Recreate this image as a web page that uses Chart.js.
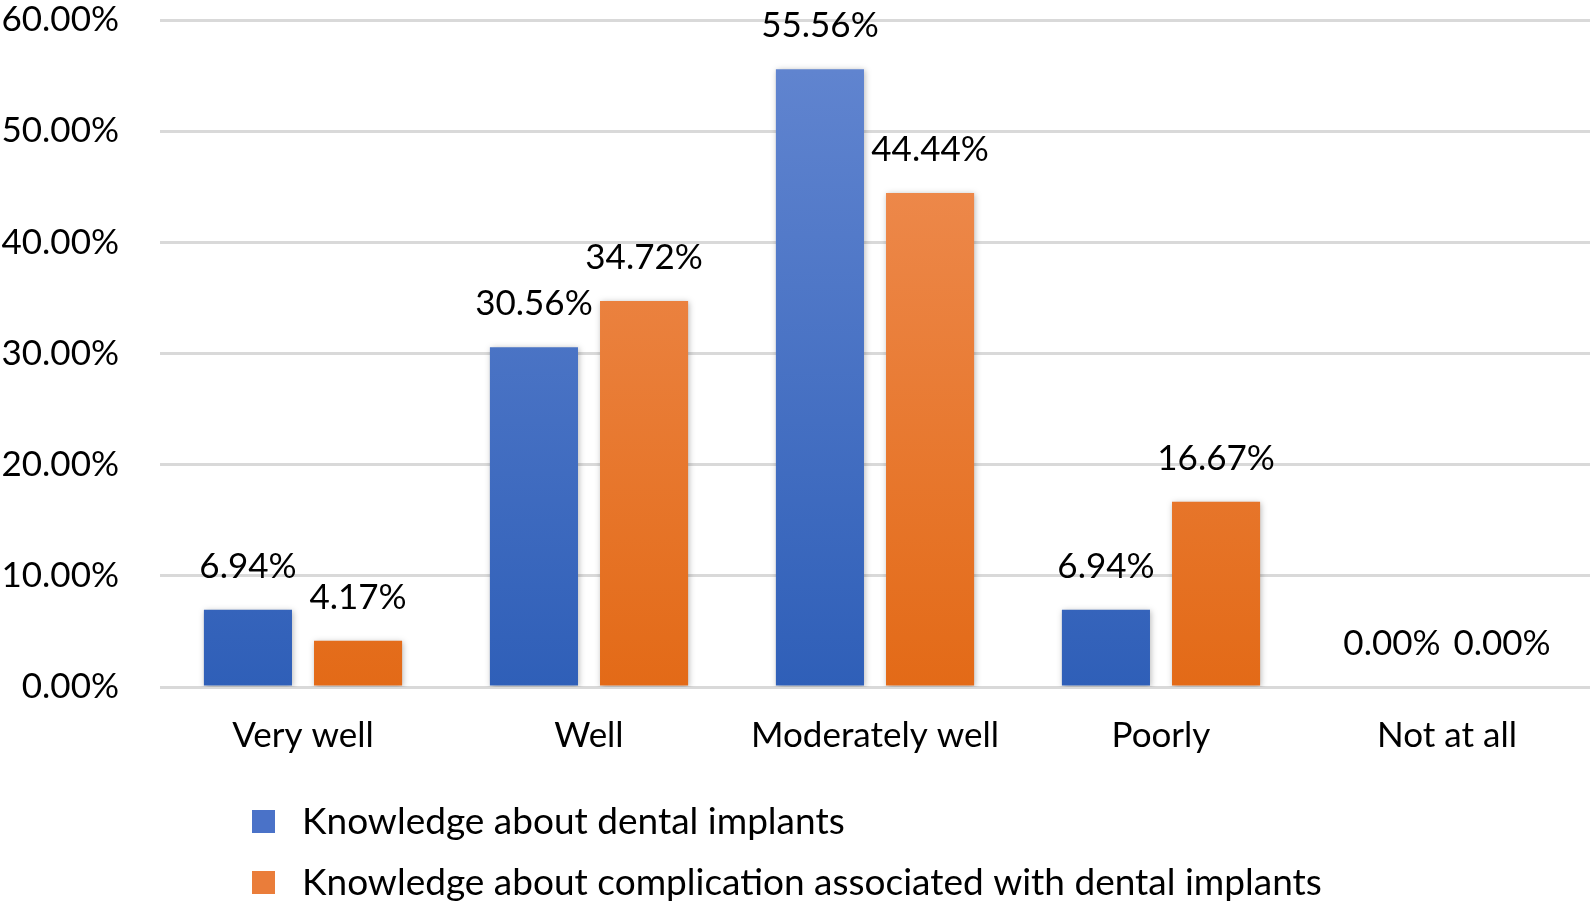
<!DOCTYPE html>
<html>
<head>
<meta charset="utf-8">
<script src="https://cdn.jsdelivr.net/npm/chart.js@4"></script>
<style>
  html, body { margin: 0; padding: 0; background: #fff; }
  #wrap { width: 1592px; height: 905px; }
</style>
</head>
<body>
<div id="wrap"><canvas id="chart" width="1592" height="905"></canvas></div>
<script>
const categories = ['Very well', 'Well', 'Moderately well', 'Poorly', 'Not at all'];
const implantsKnowledge = [6.94, 30.56, 55.56, 6.94, 0];
const complicationKnowledge = [4.17, 34.72, 44.44, 16.67, 0];
const seriesNames = ['Knowledge about dental implants', 'Knowledge about complication associated with dental implants'];
const yTicks = [0, 10, 20, 30, 40, 50, 60];

const FONT = 'Lato, "Open Sans", sans-serif';

function barGradient(top, bottom) {
    return (ctx) => {
        const area = ctx.chart.chartArea;
        if (!area) return bottom;
        const g = ctx.chart.ctx.createLinearGradient(0, area.top, 0, area.bottom);
        g.addColorStop(0, top);
        g.addColorStop(1, bottom);
        return g;
    };
}

// soft shadow under the bars
const barShadow = {
    id: 'barShadow',
    beforeDatasetsDraw(chart) {
        const c = chart.ctx;
        c.save();
        c.shadowColor = 'rgba(0,0,0,0.28)';
        c.shadowBlur = 6;
        c.shadowOffsetX = 1;
        c.shadowOffsetY = 1;
    },
    afterDatasetsDraw(chart) {
        chart.ctx.restore();
    }
};

// value labels above each bar
const valueLabels = {
    id: 'valueLabels',
    afterDatasetsDraw(chart) {
        const c = chart.ctx;
        c.save();
        c.font = '35px ' + FONT;
        c.fillStyle = '#000';
        c.textAlign = 'center';
        c.textBaseline = 'alphabetic';
        chart.data.datasets.forEach((ds, i) => {
            chart.getDatasetMeta(i).data.forEach((bar, j) => {
                c.fillText(ds.data[j].toFixed(2) + '%', bar.x, bar.y - 32);
            });
        });
        c.restore();
    }
};

// legend stacked in two rows under the axis
const stackedLegend = {
    id: 'stackedLegend',
    afterDraw(chart) {
        const c = chart.ctx;
        c.save();
        c.font = '37px ' + FONT;
        c.textBaseline = 'middle';
        const swatches = ['#4a72c8', '#ea7d3a'];
        chart.data.datasets.forEach((ds, i) => {
            const y = 821 + i * 61;
            c.fillStyle = swatches[i];
            c.fillRect(252, y - 11, 23, 23);
            c.fillStyle = '#000';
            c.fillText(ds.label, 302, y + 1);
        });
        c.restore();
    }
};

new Chart(document.querySelector('#chart').getContext('2d'), {
    type: 'bar',
    data: {
        labels: categories,
        datasets: [
            {
                label: seriesNames[0],
                data: implantsKnowledge,
                backgroundColor: barGradient('#6487d1', '#2f5fb8'),
                borderWidth: 0
            },
            {
                label: seriesNames[1],
                data: complicationKnowledge,
                backgroundColor: barGradient('#f0925b', '#e36a17'),
                borderWidth: 0
            }
        ]
    },
    options: {
        responsive: false,
        animation: false,
        devicePixelRatio: 1,
        categoryPercentage: 0.77,
        barPercentage: 0.8,
        layout: { padding: { top: 20, right: 2, left: 0, bottom: 0 } },
        plugins: {
            legend: { display: false },
            tooltip: { enabled: false }
        },
        scales: {
            x: {
                grid: { display: false, drawTicks: false },
                border: { display: false },
                ticks: {
                    color: '#000',
                    font: { family: FONT, size: 35 },
                    padding: 28,
                    maxRotation: 0
                },
                afterFit(scale) { scale.height = 218; }
            },
            y: {
                min: 0,
                max: 60,
                afterBuildTicks(scale) { scale.ticks = yTicks.map(v => ({ value: v })); },
                grid: { color: '#d9d9d9', lineWidth: 3, drawTicks: false },
                border: { display: false },
                ticks: {
                    color: '#000',
                    font: { family: FONT, size: 35 },
                    padding: 41,
                    callback: (v) => v.toFixed(2) + '%'
                },
                afterFit(scale) {
                    scale.width = 160;
                    scale.paddingTop = 0;
                    scale.paddingBottom = 0;
                }
            }
        }
    },
    plugins: [barShadow, valueLabels, stackedLegend]
});
</script>
</body>
</html>
